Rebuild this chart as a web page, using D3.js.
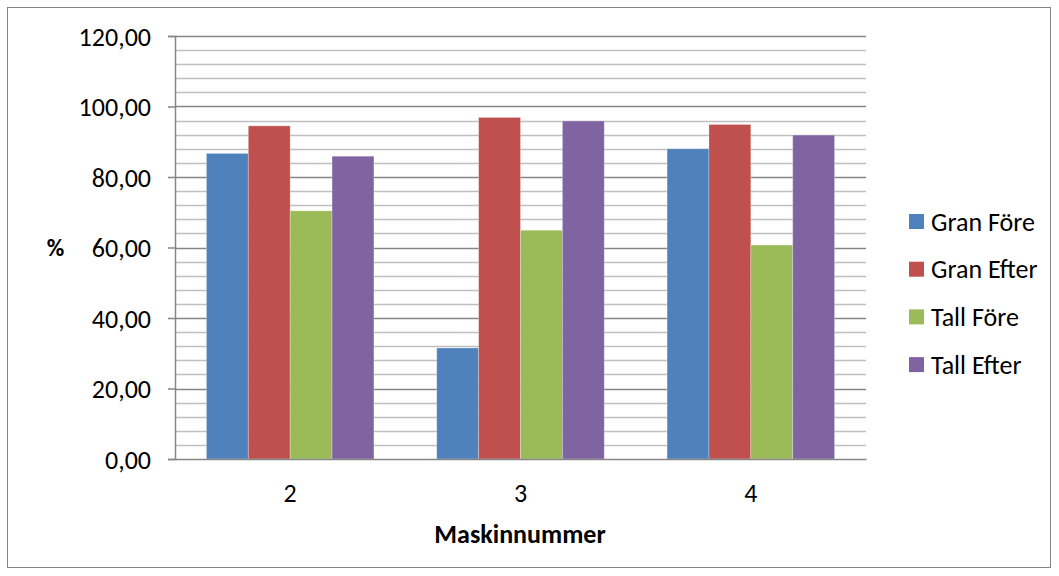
<!DOCTYPE html>
<html>
<head>
<meta charset="utf-8">
<script src="https://cdn.jsdelivr.net/npm/d3@7"></script>
<style>
  html, body { margin: 0; padding: 0; background: #fff; }
  svg text { font-family: Carlito, Calibri, Lato, "Open Sans", "Liberation Sans", sans-serif; fill: #000; }
</style>
</head>
<body>
<svg id="chart" width="1059" height="576"></svg>
<script>
// Machine numbers on the x axis
const categories = ["2", "3", "4"];
// Series names and colours
const seriesNames = ["Gran Före", "Gran Efter", "Tall Före", "Tall Efter"];
const seriesColors = ["#4F81BD", "#C0504D", "#9BBB59", "#8064A2"];
// Percentages per series, one value per machine
const granFore  = [86.7, 31.5, 88.0];
const granEfter = [94.5, 96.9, 94.9];
const tallFore  = [70.4, 64.9, 60.7];
const tallEfter = [85.9, 95.9, 91.9];
const seriesValues = [granFore, granEfter, tallFore, tallEfter];
// Y axis
const yMajorTicks = [0, 20, 40, 60, 80, 100, 120];
const yMinorStep = 4;

const FONT = "Carlito, Calibri, Lato, 'Open Sans', 'Liberation Sans', sans-serif";
const svg = d3.select("#chart");

// Outer frame
svg.append("rect")
  .attr("x", 7.5).attr("y", 7.5)
  .attr("width", 1043).attr("height", 560)
  .attr("fill", "#fff").attr("stroke", "#868686").attr("stroke-width", 1);

const plot = { left: 175, right: 866, top: 36, bottom: 459 };

const y = d3.scaleLinear().domain([0, 120]).range([plot.bottom, plot.top]);
const x0 = d3.scaleBand().domain(categories).range([plot.left, plot.right]).paddingInner(0).paddingOuter(0);
// Gap width of 150%: the bar group takes 4/5.5 of each category
const groupFrac = 4 / 5.5;
const x1 = d3.scaleBand().domain(seriesNames)
  .range([0, x0.bandwidth() * groupFrac]);
const groupOffset = x0.bandwidth() * (1 - groupFrac) / 2;

// Minor gridlines
const minorTicks = d3.range(0, 120 + 0.001, yMinorStep).filter(v => v % 20 !== 0);
svg.append("g").selectAll("line").data(minorTicks).join("line")
  .attr("x1", plot.left).attr("x2", plot.right)
  .attr("y1", d => Math.round(y(d)) + 0.5).attr("y2", d => Math.round(y(d)) + 0.5)
  .attr("stroke", "#BFBFBF").attr("stroke-width", 1.5);

// Major gridlines
svg.append("g").selectAll("line").data(yMajorTicks.filter(v => v > 0)).join("line")
  .attr("x1", plot.left).attr("x2", plot.right)
  .attr("y1", d => Math.round(y(d)) + 0.5).attr("y2", d => Math.round(y(d)) + 0.5)
  .attr("stroke", "#868686").attr("stroke-width", 1.5);

// Bars
const groups = svg.append("g").selectAll("g").data(categories).join("g")
  .attr("transform", d => `translate(${x0(d) + groupOffset},0)`);
groups.selectAll("rect")
  .data((c, ci) => seriesNames.map((s, si) => ({ s, si, v: seriesValues[si][ci] })))
  .join("rect")
  .attr("x", d => x1(d.s))
  .attr("width", x1.bandwidth())
  .attr("y", d => y(d.v))
  .attr("height", d => y(0) - y(d.v))
  .attr("fill", d => seriesColors[d.si])
  .attr("stroke", "rgba(255,255,255,0.35)").attr("stroke-width", 0.8);

// X axis (no tick marks)
const xAxis = d3.axisBottom(x0).tickSize(0).tickPadding(25);
const gx = svg.append("g").attr("transform", `translate(0,${plot.bottom})`).call(xAxis);
gx.select(".domain").attr("stroke", "#868686").attr("stroke-width", 1.5);
gx.selectAll(".tick text").attr("font-size", 26).style("font-family", FONT);

// Y axis
const yAxis = d3.axisLeft(y).tickValues(yMajorTicks).tickSize(7).tickPadding(17)
  .tickFormat(d => d3.format(".2f")(d).replace(".", ","));
const gy = svg.append("g").attr("transform", `translate(${plot.left},0)`).call(yAxis);
gy.select(".domain").attr("stroke", "#868686").attr("stroke-width", 1.5);
gy.selectAll(".tick line").attr("stroke", "#868686").attr("stroke-width", 1.5);
gy.selectAll(".tick text").attr("font-size", 26).attr("dy", "0.35em").style("font-family", FONT);

// Axis titles
svg.append("text").attr("x", 55.5).attr("y", 256).attr("text-anchor", "middle")
  .attr("font-size", 24).attr("font-weight", "bold").text("%");
svg.append("text").attr("x", 520).attr("y", 543).attr("text-anchor", "middle")
  .attr("font-size", 26).attr("font-weight", "bold").text("Maskinnummer");

// Legend
const legend = svg.append("g").attr("transform", "translate(909,214)");
const items = legend.selectAll("g").data(seriesNames).join("g")
  .attr("transform", (d, i) => `translate(0,${i * 47.7})`);
items.append("rect").attr("width", 15).attr("height", 15)
  .attr("fill", (d, i) => seriesColors[i]);
items.append("text").attr("x", 22).attr("y", 7.5).attr("dy", "0.35em")
  .attr("font-size", 26).text(d => d);
</script>
</body>
</html>
